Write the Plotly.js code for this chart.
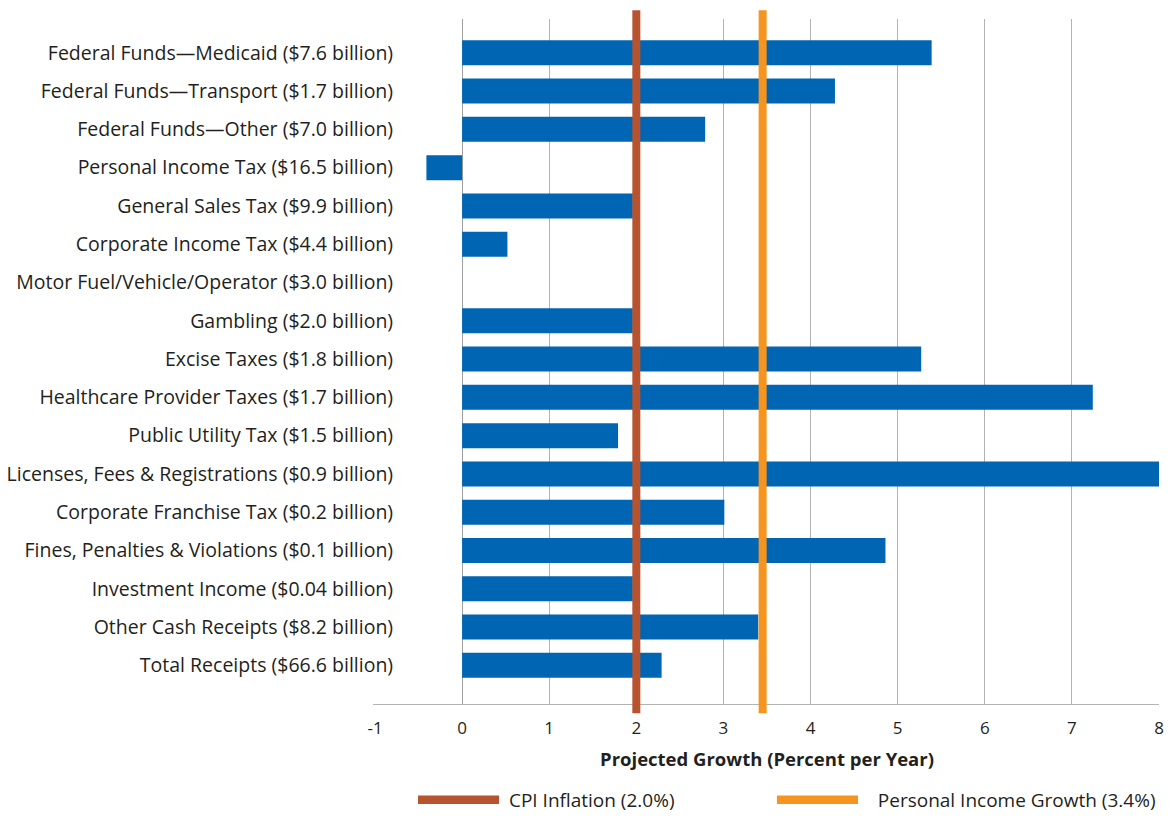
<!DOCTYPE html>
<html>
<head>
<meta charset="utf-8">
<script src="https://cdn.plot.ly/plotly-3.0.1.min.js"></script>
<style>html,body{margin:0;padding:0;background:#fff;}#chart{width:1170px;height:819px;}</style>
</head>
<body>
<div id="chart"></div>
<script>
const categories = [
  "Federal Funds\u2014Medicaid ($7.6 billion)",
  "Federal Funds\u2014Transport ($1.7 billion)",
  "Federal Funds\u2014Other ($7.0 billion)",
  "Personal Income Tax ($16.5 billion)",
  "General Sales Tax ($9.9 billion)",
  "Corporate Income Tax ($4.4 billion)",
  "Motor Fuel/Vehicle/Operator ($3.0 billion)",
  "Gambling ($2.0 billion)",
  "Excise Taxes ($1.8 billion)",
  "Healthcare Provider Taxes ($1.7 billion)",
  "Public Utility Tax ($1.5 billion)",
  "Licenses, Fees & Registrations ($0.9 billion)",
  "Corporate Franchise Tax ($0.2 billion)",
  "Fines, Penalties & Violations ($0.1 billion)",
  "Investment Income ($0.04 billion)",
  "Other Cash Receipts ($8.2 billion)",
  "Total Receipts ($66.6 billion)"
];
const growth = [5.39, 4.28, 2.79, -0.41, 1.96, 0.52, 0.0, 1.96, 5.27, 7.24, 1.79, 8.4, 3.01, 4.86, 1.96, 3.40, 2.29];
const cpiInflation = 2.0;
const personalIncomeGrowth = 3.45;
const refNames = ["CPI Inflation (2.0%)", "Personal Income Growth (3.4%)"];
const xTicks = [-1, 0, 1, 2, 3, 4, 5, 6, 7, 8];
const xTitle = "Projected Growth (Percent per Year)";

const FONT = "'Open Sans', 'Noto Sans', sans-serif";
const TXT = "#231f20";
const BLUE = "#0066b3";
const RUST = "#b8532f";
const ORANGE = "#f7941d";
const NB = "\u00a0";

const traces = [
  {
    type: "bar",
    orientation: "h",
    x: growth,
    y: categories,
    marker: {color: BLUE, line: {width: 0}},
    showlegend: false,
    hoverinfo: "x+y"
  },
  {type: "scatter", mode: "lines", x: [null], y: [null], name: NB + refNames[0],
   line: {color: RUST, width: 8.5}, legend: "legend"},
  {type: "scatter", mode: "lines", x: [null], y: [null], name: NB + NB + NB + refNames[1],
   line: {color: ORANGE, width: 8.5}, legend: "legend2"}
];

const legendBase = {
  orientation: "h",
  xref: "container", yref: "container",
  xanchor: "left",
  y: 0, yanchor: "bottom",
  itemwidth: 81,
  font: {family: FONT, size: 19, color: TXT},
  bgcolor: "rgba(0,0,0,0)"
};

const layout = {
  width: 1170,
  height: 819,
  margin: {l: 375, r: 11, t: 19, b: 115},
  paper_bgcolor: "#fff",
  plot_bgcolor: "#fff",
  font: {family: FONT, color: TXT, size: 19.5},
  bargap: 0.347,
  showlegend: true,
  legend: Object.assign({}, legendBase, {x: 413 / 1170}),
  legend2: Object.assign({}, legendBase, {x: 772 / 1170}),
  xaxis: {
    range: [-1, 8],
    tickvals: xTicks,
    ticktext: xTicks.map(String),
    showgrid: true,
    gridcolor: "#b3b3b3",
    gridwidth: 1,
    zeroline: true,
    zerolinecolor: "#a0a0a0",
    zerolinewidth: 1,
    showline: true,
    linecolor: "#b3b3b3",
    linewidth: 1,
    ticks: "",
    ticklabelstandoff: 9,
    tickfont: {family: FONT, size: 17, color: TXT},
    title: {text: "<b>" + xTitle + "</b>", font: {family: FONT, size: 18.5, color: TXT}, standoff: 14},
    automargin: false,
    fixedrange: true
  },
  yaxis: {
    type: "category",
    categoryorder: "array",
    categoryarray: categories,
    range: [17.01, -0.883],
    showgrid: false,
    zeroline: false,
    showline: true,
    linecolor: "#ffffff",
    linewidth: 2,
    ticks: "",
    ticklabelstandoff: -24,
    tickfont: {family: FONT, size: 19.5, color: TXT},
    automargin: false,
    fixedrange: true
  },
  shapes: [
    {type: "line", xref: "x", yref: "paper", x0: cpiInflation, x1: cpiInflation, y0: -0.0136, y1: 1.0127,
     line: {color: RUST, width: 8}, layer: "above"},
    {type: "line", xref: "x", yref: "paper", x0: personalIncomeGrowth, x1: personalIncomeGrowth, y0: -0.0136, y1: 1.0127,
     line: {color: ORANGE, width: 8}, layer: "above"}
  ]
};

Plotly.newPlot("chart", traces, layout, {displayModeBar: false, staticPlot: true});
</script>
</body>
</html>
